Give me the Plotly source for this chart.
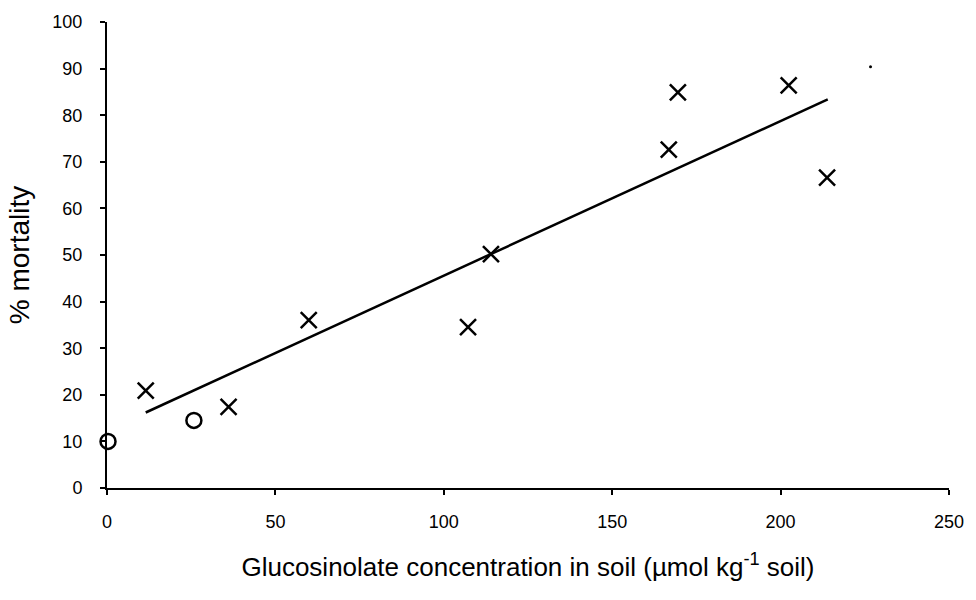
import plotly.graph_objects as go

# Treated soils (crosses)
cross_x = [11.5, 36.1, 59.9, 107.2, 114.0, 166.8, 169.5, 202.4, 213.8]
cross_y = [20.9, 17.4, 36.0, 34.5, 50.2, 72.6, 84.9, 86.4, 66.6]

# Control soils (open circles)
circle_x = [0.3, 25.8]
circle_y = [10.0, 14.5]

# Regression line endpoints
trend_x = [11.5, 214.0]
trend_y = [16.2, 83.4]

# Stray dot in the original figure
dot_x = [226.7]
dot_y = [90.4]

x_ticks = [0, 50, 100, 150, 200, 250]
y_ticks = [0, 10, 20, 30, 40, 50, 60, 70, 80, 90, 100]

fig = go.Figure()
fig.add_trace(go.Scatter(x=trend_x, y=trend_y, mode="lines",
                         line=dict(color="black", width=2.5), showlegend=False))
fig.add_trace(go.Scatter(x=cross_x, y=cross_y, mode="markers",
                         marker=dict(symbol="x-thin", size=16, line=dict(color="black", width=2.5)),
                         showlegend=False, cliponaxis=False))
fig.add_trace(go.Scatter(x=circle_x, y=circle_y, mode="markers",
                         marker=dict(symbol="circle-open", size=15, color="black", line=dict(color="black", width=2.5)),
                         showlegend=False, cliponaxis=False))
fig.add_trace(go.Scatter(x=dot_x, y=dot_y, mode="markers",
                         marker=dict(symbol="circle", size=3, color="black"),
                         showlegend=False, cliponaxis=False))

font = dict(family="Liberation Sans, Arial, sans-serif", size=18, color="black")

fig.update_layout(
    width=976, height=600,
    margin=dict(l=107, r=20, t=19, b=112),
    paper_bgcolor="white", plot_bgcolor="white",
    font=font,
    xaxis=dict(range=[0, 250], tickvals=x_ticks, ticktext=[str(v) for v in x_ticks],
               showgrid=False, zeroline=False, showline=True, linecolor="black", linewidth=2,
               ticks="outside", ticklen=5, tickwidth=1.5, tickcolor="black",
               ticklabelstandoff=11, tickfont=dict(size=18),
               title=dict(text="Glucosinolate concentration in soil (µmol kg<sup>-1</sup> soil)",
                          font=dict(size=26), standoff=27)),
    yaxis=dict(range=[0, 100], tickvals=y_ticks, ticktext=[str(v) for v in y_ticks],
               showgrid=False, zeroline=False, showline=True, linecolor="black", linewidth=2,
               ticks="outside", ticklen=5, tickwidth=1.5, tickcolor="black",
               ticklabelstandoff=14, tickfont=dict(size=18),
               title=dict(text="% mortality", font=dict(size=28), standoff=15)),
)

fig.write_html("out.html")
